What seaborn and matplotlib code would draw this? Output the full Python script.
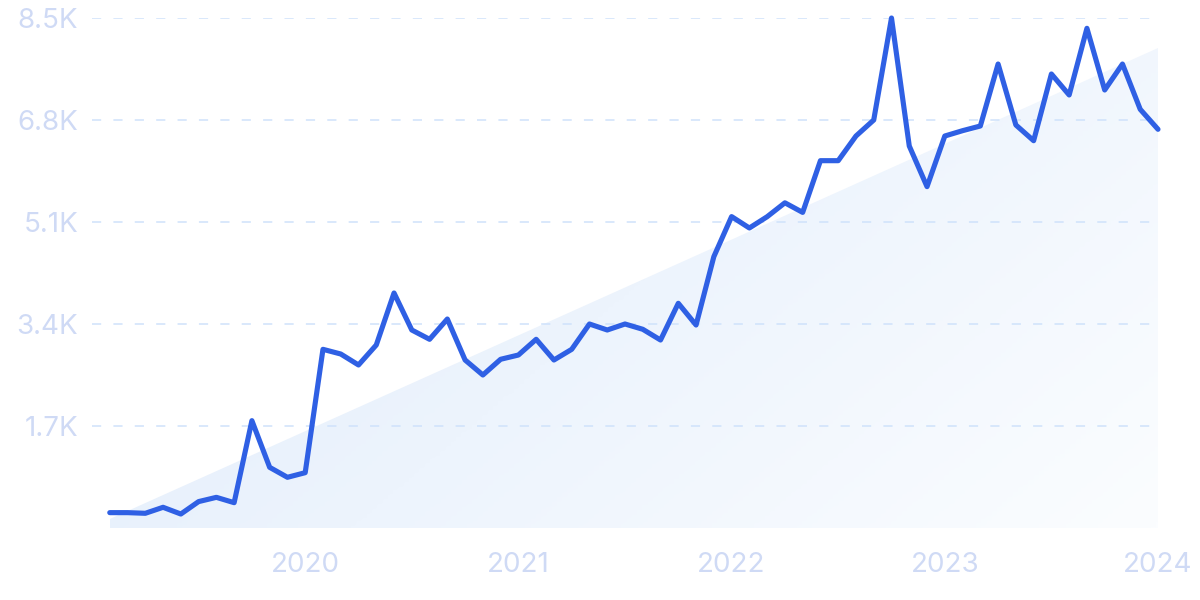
import numpy as np
import pandas as pd
import matplotlib.pyplot as plt
import seaborn as sns
from matplotlib.colors import LinearSegmentedColormap

# monthly values, Feb 2019 .. Jan 2024
months = pd.date_range("2019-02-01", "2024-01-01", freq="MS")
values = [256, 256, 245, 345, 233, 440, 511, 422, 1789, 1011, 845, 922,
          2978, 2900, 2717, 3050, 3917, 3300, 3145, 3483, 2800, 2550, 2812, 2883,
          3145, 2800, 2978, 3400, 3300, 3400, 3312, 3133, 3745, 3383, 4522, 5190,
          5000, 5188, 5420, 5260, 6122, 6122, 6533, 6800, 8500, 6367, 5689, 6533,
          6622, 6700, 7733, 6717, 6455, 7567, 7217, 8328, 7300, 7733, 6978, 6645]
trend_ends = [150, 8000]  # trend area, first and last month

y_ticks = [1700, 3400, 5100, 6800, 8500]
y_labels = ["1.7K", "3.4K", "5.1K", "6.8K", "8.5K"]
x_ticks = [2020, 2021, 2022, 2023, 2024]

LINE = "#2f60e4"
TXT = "#cfdaf5"
GRID = "#cfe2fb"

df = pd.DataFrame({"t": months.year + (months.month - 1) / 12, "searches": values})

sns.set_theme(style="white")
plt.rcParams["font.family"] = ["Inter", "DejaVu Sans"]

fig = plt.figure(figsize=(12, 6), dpi=100)
ax = fig.add_axes([92 / 1200, 1 - 528 / 600, (1158 - 92) / 1200, 510 / 600])

# gradient trend area
t0, t1 = df["t"].iloc[0], df["t"].iloc[-1]
poly = ax.fill_between([t0, t1], [0, 0], trend_ends, color="none", lw=0)
gx, gy = np.meshgrid(np.linspace(0, 1, 200), np.linspace(1, 0, 200))
grad = 0.65 * gx + 0.35 * (1 - gy)
cmap = LinearSegmentedColormap.from_list("fade", ["#dfebfb", "#fbfdff"])
img = ax.imshow(grad, cmap=cmap, extent=[t0, t1, 0, trend_ends[1]],
                aspect="auto", origin="upper", zorder=1)
img.set_clip_path(poly.get_paths()[0], transform=ax.transData)

# grid
for y in y_ticks:
    ax.axhline(y, color=GRID, lw=1.1, ls=(0, (6, 8)), zorder=2)

sns.lineplot(data=df, x="t", y="searches", ax=ax, color=LINE, lw=3.7,
             zorder=3, clip_on=False)

ax.set_xlim(2019.0, 2024.0)
ax.set_ylim(0, 8500)
ax.set_yticks(y_ticks)
ax.set_yticklabels(y_labels)
ax.set_xticks(x_ticks)
ax.set_xticklabels([str(x) for x in x_ticks])
ax.tick_params(axis="y", length=0, pad=10, labelsize=20, labelcolor=TXT)
ax.tick_params(axis="x", length=0, pad=17, labelsize=20, labelcolor=TXT)
ax.set_xlabel("")
ax.set_ylabel("")
sns.despine(ax=ax, left=True, bottom=True)
ax.grid(False)

fig.savefig("out.png", dpi=100)
plt.close()
